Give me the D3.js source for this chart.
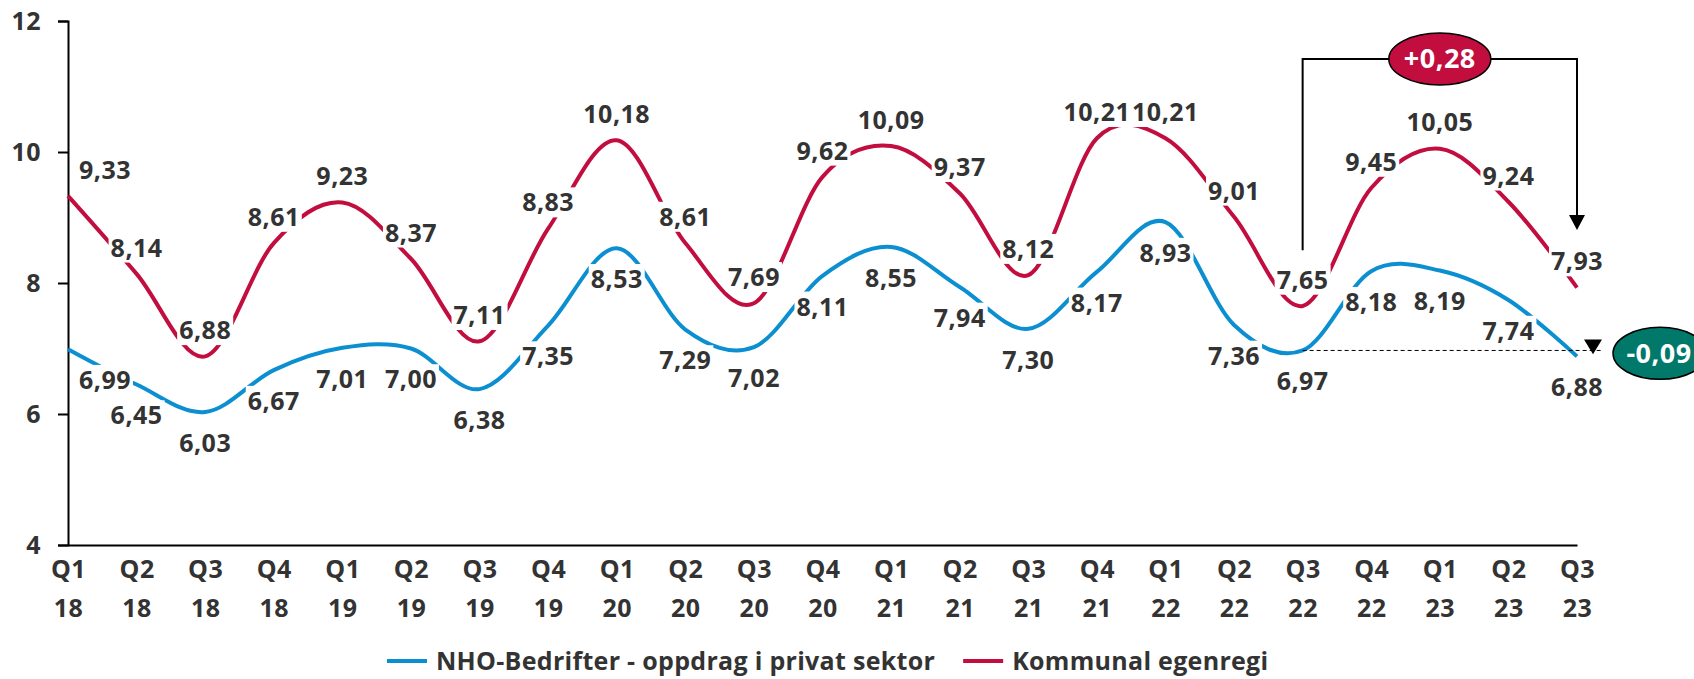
<html>
<head>
<meta charset="utf-8">
<style>
  body { margin: 0; background: #fff; }
  text { font-family: "Open Sans", "Noto Sans", sans-serif; font-weight: 700; fill: #333; letter-spacing: 0.5px; }
</style>
</head>
<body>
<script src="https://d3js.org/d3.v7.min.js" charset="utf-8"></script>
<script type="text/javascript">

// data
var quarters = ["Q1","Q2","Q3","Q4","Q1","Q2","Q3","Q4","Q1","Q2","Q3","Q4","Q1","Q2","Q3","Q4","Q1","Q2","Q3","Q4","Q1","Q2","Q3"];
var years    = ["18","18","18","18","19","19","19","19","20","20","20","20","21","21","21","21","22","22","22","22","23","23","23"];
var nhoValues = [6.99,6.45,6.03,6.67,7.01,7.00,6.38,7.35,8.53,7.29,7.02,8.11,8.55,7.94,7.30,8.17,8.93,7.36,6.97,8.18,8.19,7.74,6.88];
var kommunalValues = [9.33,8.14,6.88,8.61,9.23,8.37,7.11,8.83,10.18,8.61,7.69,9.62,10.09,9.37,8.12,10.21,10.21,9.01,7.65,9.45,10.05,9.24,7.93];
var yTicks = [4, 6, 8, 10, 12];
var seriesNames = ["NHO-Bedrifter - oppdrag i privat sektor", "Kommunal egenregi"];

var blue = "#0b8fd1", red = "#c20d3f", teal = "#00796b";
var width = 1694, height = 679;
var margin = {left: 68, right: 117, top: 21, bottom: 134};

var svg = d3.select("body").append("svg")
    .attr("width", width)
    .attr("height", height);

var idx = d3.range(quarters.length);
var x = d3.scalePoint().domain(idx).range([margin.left, width - margin.right]);
var y = d3.scaleLinear().domain([4, 12]).range([height - margin.bottom, margin.top]);

// y axis
var yAxis = svg.append("g")
    .attr("transform", "translate(" + margin.left + ",0)")
    .call(d3.axisLeft(y).tickValues(yTicks).tickSize(10).tickPadding(17));
yAxis.select(".domain").attr("stroke", "#000").attr("stroke-width", 2);
yAxis.selectAll(".tick line").attr("stroke", "#000").attr("stroke-width", 2);
yAxis.selectAll("text").style("font-size", "25px").attr("fill", "#333");

// x axis
var xAxis = svg.append("g")
    .attr("transform", "translate(0," + y(4) + ")")
    .call(d3.axisBottom(x).tickSize(0).tickFormat(""));
xAxis.select(".domain").attr("stroke", "#000").attr("stroke-width", 2);
xAxis.selectAll(".tick").append("text")
    .attr("y", 24).attr("dy", "0.35em").attr("text-anchor", "middle")
    .style("font-size", "25px")
    .text(function(d) { return quarters[d]; });
xAxis.selectAll(".tick").append("text")
    .attr("y", 63).attr("dy", "0.35em").attr("text-anchor", "middle")
    .style("font-size", "25px")
    .text(function(d) { return years[d]; });

// lines
var line = d3.line()
    .x(function(d, i) { return x(i); })
    .y(function(d) { return y(d); })
    .curve(d3.curveCardinal.tension(0));

svg.append("path").datum(nhoValues)
    .attr("fill", "none").attr("stroke", blue).attr("stroke-width", 4)
    .attr("d", line);
svg.append("path").datum(kommunalValues)
    .attr("fill", "none").attr("stroke", red).attr("stroke-width", 4)
    .attr("d", line);

// annotation: bracket for kommunal change
var i0 = idx.length - 5, i1 = idx.length - 1;
var bracketTop = y(11.42);
svg.append("path")
    .attr("fill", "none").attr("stroke", "#000").attr("stroke-width", 2)
    .attr("d", "M" + x(i0) + "," + y(8.5) + "V" + bracketTop + "H" + x(i1) + "V" + (y(8.81) - 14));
svg.append("path")
    .attr("fill", "#000")
    .attr("d", "M" + (x(i1) - 8) + "," + (y(8.81) - 15) + "L" + (x(i1) + 8) + "," + (y(8.81) - 15) + "L" + x(i1) + "," + y(8.81) + "Z");

var kDiff = kommunalValues[i1] - kommunalValues[i0];
var fmt = function(v) { return (v > 0 ? "+" : "") + v.toFixed(2).replace(".", ","); };
var fmt2 = function(v) { return v.toFixed(2).replace(".", ","); };

svg.append("ellipse")
    .attr("cx", x(i1 - 2)).attr("cy", bracketTop).attr("rx", 51).attr("ry", 26)
    .attr("fill", red).attr("stroke", "#000").attr("stroke-width", 1.5);
svg.append("text")
    .attr("x", x(i1 - 2)).attr("y", bracketTop).attr("dy", "0.35em")
    .attr("text-anchor", "middle").style("font-size", "27px").style("fill", "#fff")
    .text(fmt(kDiff));

// annotation: dashed reference for NHO change
var nDiff = nhoValues[i1] - nhoValues[i0];
svg.append("line")
    .attr("x1", x(i0)).attr("x2", x(i1) + 26)
    .attr("y1", y(nhoValues[i0])).attr("y2", y(nhoValues[i0]))
    .attr("stroke", "#000").attr("stroke-width", 1).attr("stroke-dasharray", "4,3");
svg.append("path")
    .attr("fill", "#000")
    .attr("d", "M" + (x(i1) + 7) + "," + (y(nhoValues[i0]) - 11) + "L" + (x(i1) + 25) + "," + (y(nhoValues[i0]) - 11) + "L" + (x(i1) + 16) + "," + (y(nhoValues[i1]) - 2) + "Z");
svg.append("ellipse")
    .attr("cx", x(i1) + 83).attr("cy", y(nhoValues[i1]) - 3).attr("rx", 47).attr("ry", 26)
    .attr("fill", teal).attr("stroke", "#000").attr("stroke-width", 1.5);
svg.append("text")
    .attr("x", x(i1) + 82).attr("y", y(nhoValues[i1]) - 3).attr("dy", "0.35em")
    .attr("text-anchor", "middle").style("font-size", "27px").style("fill", "#fff")
    .text(fmt(nDiff));

// data labels (white box masks the line)
function addLabels(values, offset) {
    var g = svg.append("g").selectAll("g")
        .data(values).enter().append("g")
        .attr("transform", function(d, i) {
            var lx = x(i) + (i === 0 ? 37 : 0);
            return "translate(" + lx + "," + (y(d) + offset) + ")";
        });
    g.append("text")
        .attr("text-anchor", "middle").attr("dy", "0.35em")
        .style("font-size", "25px")
        .text(fmt2);
    g.each(function() {
        var b = d3.select(this).select("text").node().getBBox();
        d3.select(this).insert("rect", "text")
            .attr("x", b.x - 2).attr("y", b.y + 3)
            .attr("width", b.width + 4).attr("height", b.height - 4)
            .attr("fill", "#fff");
    });
}
addLabels(nhoValues, 31);
addLabels(kommunalValues, -26);

// legend
var legend = svg.append("g").attr("transform", "translate(0," + 661 + ")");
var colors = [blue, red];
var lx = 387;
seriesNames.forEach(function(name, i) {
    legend.append("line")
        .attr("x1", lx).attr("x2", lx + 40).attr("y1", 0).attr("y2", 0)
        .attr("stroke", colors[i]).attr("stroke-width", 4);
    var t = legend.append("text")
        .attr("x", lx + 49).attr("dy", "0.35em")
        .style("font-size", "25px").style("letter-spacing", "0.3px")
        .text(name);
    lx += 49 + t.node().getComputedTextLength() + 28;
});

</script>
</body>
</html>
